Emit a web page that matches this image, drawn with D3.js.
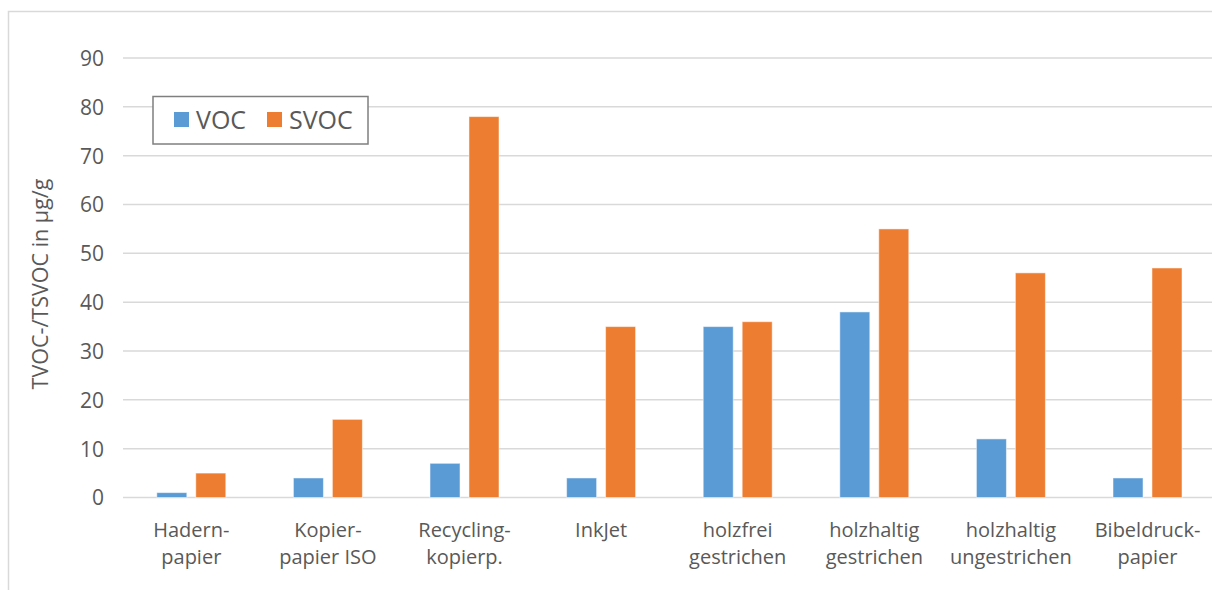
<!DOCTYPE html>
<html>
<head>
<meta charset="utf-8">
<script src="https://cdn.jsdelivr.net/npm/d3@7"></script>
<style>
  html, body { margin: 0; padding: 0; background: #fff; }
  svg { display: block; font-family: "Open Sans", sans-serif; }
</style>
</head>
<body>
<svg id="chart" width="1212" height="590"></svg>
<script>
const categories = [
  ["Hadern-", "papier"],
  ["Kopier-", "papier ISO"],
  ["Recycling-", "kopierp."],
  ["InkJet"],
  ["holzfrei", "gestrichen"],
  ["holzhaltig", "gestrichen"],
  ["holzhaltig", "ungestrichen"],
  ["Bibeldruck-", "papier"]
];
const seriesNames = ["VOC", "SVOC"];
const vocValues  = [1, 4, 7, 4, 35, 38, 12, 4];
const svocValues = [5, 16, 78, 35, 36, 55, 46, 47];
const yTicks = [0, 10, 20, 30, 40, 50, 60, 70, 80, 90];
const yTitle = "TVOC-/TSVOC in µg/g";
const colors = ["#5B9BD5", "#ED7D31"];

const svg = d3.select("#chart");
const plot = { left: 123, right: 123 + 8 * 136.6, top: 58, bottom: 497.5 };

// chart border
svg.append("rect").attr("x", 8.5).attr("y", 11.5).attr("width", 1240).attr("height", 640)
  .attr("fill", "#fff").attr("stroke", "#d9d9d9").attr("stroke-width", 1.5);

const y = d3.scaleLinear().domain([0, 90]).range([plot.bottom, plot.top]);
const x0 = d3.scaleBand().domain(d3.range(categories.length))
  .range([plot.left, plot.right]).paddingInner(0.495).paddingOuter(0.2475);
const x1 = d3.scaleBand().domain(seriesNames).range([0, x0.bandwidth()]).paddingInner(0.23);

// gridlines
svg.append("g").selectAll("line").data(yTicks).join("line")
  .attr("x1", plot.left).attr("x2", plot.right)
  .attr("y1", d => y(d)).attr("y2", d => y(d))
  .attr("stroke", "#d9d9d9").attr("stroke-width", 1.5);

// y axis tick labels
const yAxis = d3.axisLeft(y).tickValues(yTicks).tickSize(0).tickPadding(0);
const yg = svg.append("g").attr("transform", `translate(${plot.left - 19},0)`).call(yAxis);
yg.select(".domain").remove();
yg.selectAll("text").attr("font-size", 21).attr("fill", "#595959")
  .attr("font-family", "Open Sans, sans-serif").attr("dy", "0.35em");

// bars
const data = categories.map((c, i) => ({ i, values: [vocValues[i], svocValues[i]] }));
const groups = svg.append("g").selectAll("g").data(data).join("g")
  .attr("transform", d => `translate(${x0(d.i)},0)`);
groups.selectAll("rect").data(d => d.values.map((v, k) => ({ k, v }))).join("rect")
  .attr("x", d => x1(seriesNames[d.k]))
  .attr("width", x1.bandwidth())
  .attr("y", d => y(d.v))
  .attr("height", d => y(0) - y(d.v))
  .attr("fill", d => colors[d.k])
  .attr("stroke", "#fff").attr("stroke-opacity", 0.5).attr("stroke-width", 1);

// x category labels
const xl = svg.append("g").selectAll("text").data(categories).join("text")
  .attr("text-anchor", "middle").attr("font-size", 20).attr("fill", "#595959")
  .attr("transform", (d, i) => `translate(${x0(i) + x0.bandwidth() / 2},537)`);
xl.selectAll("tspan").data(d => d).join("tspan")
  .attr("x", 0).attr("y", (d, j) => j * 26.5).text(d => d);

// y title
svg.append("text").attr("transform", "translate(48,284) rotate(-90)")
  .attr("text-anchor", "middle").attr("font-size", 21.5).attr("fill", "#595959")
  .text(yTitle);

// legend
const lg = svg.append("g");
lg.append("rect").attr("x", 153).attr("y", 96.5).attr("width", 215).attr("height", 47.5)
  .attr("fill", "#fff").attr("stroke", "#7f7f7f").attr("stroke-width", 1.5);
const legendX = [174, 267];
seriesNames.forEach((name, k) => {
  lg.append("rect").attr("x", legendX[k]).attr("y", 112).attr("width", 15).attr("height", 15)
    .attr("fill", colors[k]);
  lg.append("text").attr("x", legendX[k] + 22).attr("y", 129)
    .attr("font-size", 25).attr("fill", "#595959").text(name);
});
</script>
</body>
</html>
